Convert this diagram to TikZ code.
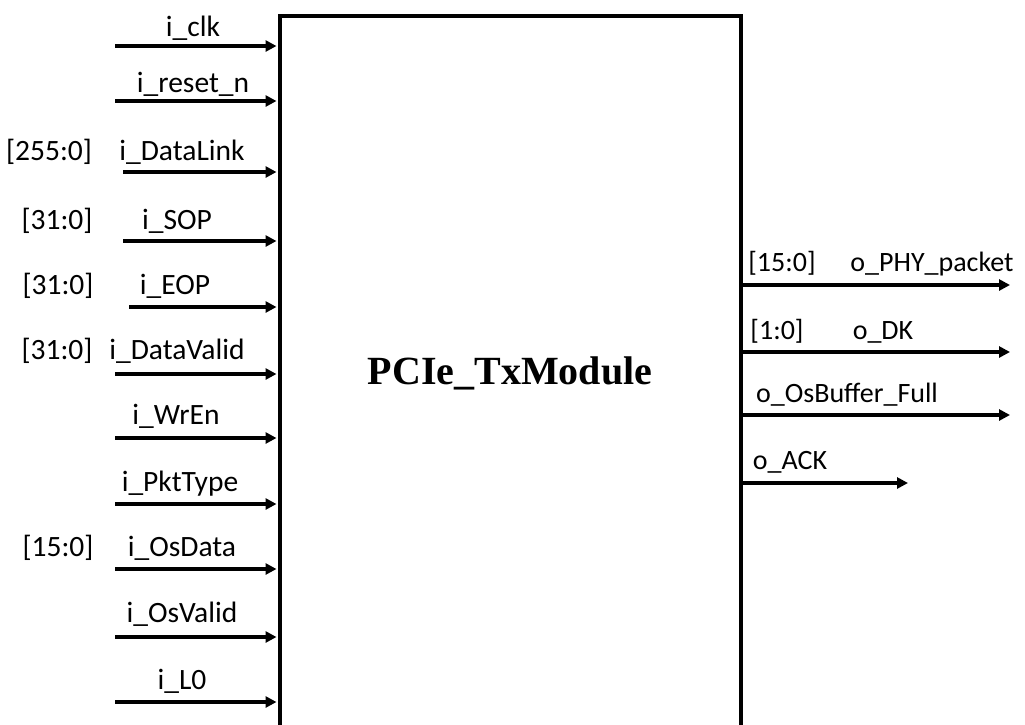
\documentclass[tikz,border=0pt]{standalone}
\usepackage{fontspec}
\setmainfont{Carlito}
\newfontfamily\titlefont{Liberation Serif}
\usetikzlibrary{arrows.meta}
\tikzset{
  sig/.style={line width=3.5pt, -{Triangle[length=11pt,width=11pt]}},
  lbl/.style={font=\fontsize{29.5}{33}\selectfont, inner sep=0pt, anchor=base},
  rlbl/.style={font=\fontsize{28}{32}\selectfont, inner sep=0pt, anchor=base},
  blk/.style={draw, line width=3.8pt, rectangle, anchor=north west, minimum width=461pt, minimum height=760pt, inner sep=0pt}
}
\begin{document}
\begin{tikzpicture}[x=1pt,y=-1pt]
\useasboundingbox (0,0) rectangle (1025,724);
\node[blk] (box) at (278,14) {};
\node[font=\titlefont\bfseries\fontsize{40}{44}\selectfont] (title) at (510,373) {PCIe\_TxModule};
% inputs
\coordinate (a1) at (115,46);
\coordinate (a2) at (115,101);
\coordinate (a3) at (123,172);
\coordinate (a4) at (123,241);
\coordinate (a5) at (129,307);
\coordinate (a6) at (115,374);
\coordinate (a7) at (115,438);
\coordinate (a8) at (115,504);
\coordinate (a9) at (115,569);
\coordinate (a10) at (115,637);
\coordinate (a11) at (115,702);
\foreach \i in {1,...,11} {
  \draw[sig, shorten >=1.5pt] (a\i) -- (a\i -| box.west);
}
\node[lbl] (l1) at (193,36) {i\_clk};
\node[lbl] (l2) at (193,92) {i\_reset\_n};
\node[lbl] (l3) at (182,160) {i\_DataLink};
\node[lbl] (l4) at (177,229) {i\_SOP};
\node[lbl] (l5) at (175,294) {i\_EOP};
\node[lbl] (l6) at (177,359) {i\_DataValid};
\node[lbl] (l7) at (176,424) {i\_WrEn};
\node[lbl] (l8) at (180,491) {i\_PktType};
\node[lbl] (l9) at (182,556) {i\_OsData};
\node[lbl] (l10) at (182,622) {i\_OsValid};
\node[lbl] (l11) at (182,689) {i\_L0};
\node[lbl] (w3) at (49,160) {[255:0]};
\node[lbl] (w4) at (57,229) {[31:0]};
\node[lbl] (w5) at (58,294) {[31:0]};
\node[lbl] (w6) at (57,359) {[31:0]};
\node[lbl] (w9) at (58,556) {[15:0]};
% outputs
\coordinate (b1) at (1010,285);
\coordinate (b2) at (1010,352);
\coordinate (b3) at (1010,415);
\coordinate (b4) at (908,483);
\foreach \i in {1,...,4} {
  \draw[sig] (b\i -| box.east) -- (b\i);
}
\node[rlbl] (o1) at (932,271) {o\_PHY\_packet};
\node[rlbl] (v1) at (782,271) {[15:0]};
\node[rlbl] (o2) at (883,339) {o\_DK};
\node[rlbl] (v2) at (777,339) {[1:0]};
\node[rlbl] (o3) at (847,402) {o\_OsBuffer\_Full};
\node[rlbl] (o4) at (790,469) {o\_ACK};
\end{tikzpicture}
\end{document}
